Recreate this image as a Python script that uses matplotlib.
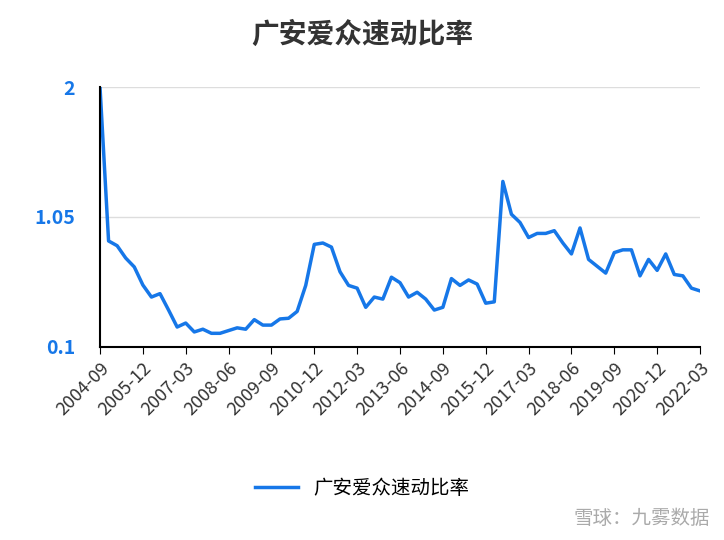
import matplotlib.pyplot as plt
import pandas as pd

plt.rcParams['font.family'] = ['Noto Sans CJK SC', 'DejaVu Sans']

# 季度数据 2004-09 ~ 2022-03
dates = pd.period_range('2004-09', '2022-03', freq='3M').strftime('%Y-%m').tolist()
values = [2.0, 0.875, 0.84, 0.75, 0.685, 0.553, 0.465, 0.49, 0.37, 0.246,
          0.275, 0.21, 0.23, 0.2, 0.2, 0.22, 0.24, 0.23, 0.30, 0.26,
          0.26, 0.305, 0.31, 0.36, 0.55, 0.85, 0.86, 0.83, 0.65, 0.55,
          0.53, 0.39, 0.465, 0.45, 0.61, 0.57, 0.465, 0.50, 0.45, 0.37,
          0.39, 0.60, 0.55, 0.59, 0.56, 0.42, 0.43, 1.31, 1.07, 1.01,
          0.90, 0.93, 0.93, 0.95, 0.86, 0.78, 0.97, 0.74, 0.69, 0.64,
          0.79, 0.81, 0.81, 0.62, 0.74, 0.66, 0.78, 0.63, 0.62, 0.53, 0.51]
yticks = [0.1, 1.05, 2]
ylabels = ['0.1', '1.05', '2']
name = '广安爱众速动比率'

fig = plt.figure(figsize=(7.24, 5.4), dpi=100)
ax = fig.add_axes([100/724, 193/540, 600/724, 260/540])
x = list(range(len(dates)))
ax.plot(x, values, color='#1677e8', lw=2.5, label=name)
ax.set_ylim(0.1, 2)
ax.set_xlim(0, len(dates) - 1)
ax.set_yticks(yticks)
ax.set_yticklabels(ylabels, color='#1677e8', fontweight='bold', fontsize=14)
ax.set_xticks(x[::5])
ax.set_xticklabels(dates[::5], rotation=45, ha='right', rotation_mode='anchor',
                   fontsize=13, color='#333333')
ax.grid(axis='y', color='#dddddd', lw=1)
ax.set_axisbelow(True)
for s in ['top', 'right']:
    ax.spines[s].set_visible(False)
ax.spines['left'].set_linewidth(1.5)
ax.spines['bottom'].set_linewidth(1.5)
ax.tick_params(axis='x', length=5)
ax.tick_params(axis='y', length=0, pad=18)

fig.text(0.5, 1 - 35/540, name, ha='center', va='center', fontsize=20,
         fontweight='bold', color='#333333')
fig.legend(loc='center', bbox_to_anchor=(0.5, 1 - 488/540), frameon=False,
           fontsize=14, handlelength=2.2)
fig.text(0.98, 0.03, '雪球：九雾数据', ha='right', fontsize=14, color='#aaaaaa')

fig.savefig('out.png', dpi=100)
